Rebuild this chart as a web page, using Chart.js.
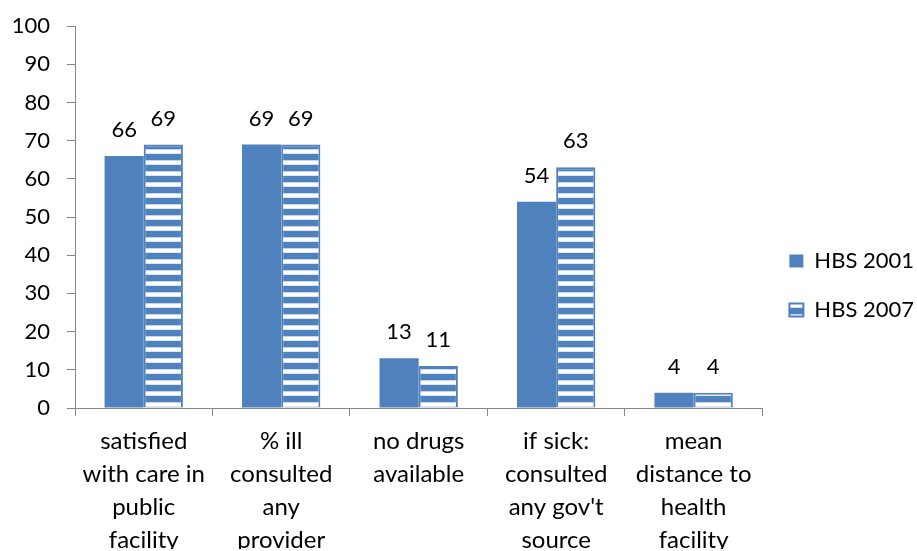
<!DOCTYPE html>
<html>
<head>
<meta charset="utf-8">
<title>HBS 2001 / 2007</title>
<script src="https://cdn.jsdelivr.net/npm/chart.js@4.4.0/dist/chart.umd.min.js"></script>
<style>
  html, body { margin: 0; padding: 0; background: #fff; }
  canvas { display: block; }
</style>
</head>
<body>
<canvas id="hbsChart" width="917" height="551"></canvas>
<script>
// survey indicators, one entry per category (multi-line labels)
var categories = [
  ['satisfied', 'with care in', 'public', 'facility'],
  ['% ill', 'consulted', 'any', 'provider'],
  ['no drugs', 'available'],
  ['if sick:', 'consulted', "any gov't", 'source'],
  ['mean', 'distance to', 'health', 'facility']
];
var seriesNames = ['HBS 2001', 'HBS 2007'];
var hbs2001 = [66, 69, 13, 54, 4];
var hbs2007 = [69, 69, 11, 63, 4];
var yMin = 0, yMax = 100, yStep = 10;

var blue = '#4F81BD';
var axisGrey = '#868686';

Chart.defaults.font.family = 'Lato, "Open Sans", sans-serif';
Chart.defaults.color = '#000';

// white horizontal stripes on blue for the 2007 bars
function stripePattern() {
  var c = document.createElement('canvas');
  c.width = 8; c.height = 11;
  var g = c.getContext('2d');
  g.fillStyle = blue; g.fillRect(0, 0, 8, 11);
  g.fillStyle = '#C6D6EA'; g.fillRect(0, 6, 8, 1);
  g.fillStyle = '#FFFFFF'; g.fillRect(0, 7, 8, 3);
  g.fillStyle = '#DCE6F2'; g.fillRect(0, 10, 8, 1);
  return g.createPattern(c, 'repeat');
}

// value above every bar
var valueLabels = {
  id: 'valueLabels',
  afterDatasetsDraw: function(chart) {
    var ctx = chart.ctx;
    ctx.save();
    ctx.font = '22px Lato, "Open Sans", sans-serif';
    ctx.fillStyle = '#000';
    ctx.textAlign = 'center';
    ctx.textBaseline = 'middle';
    chart.data.datasets.forEach(function(ds, i) {
      chart.getDatasetMeta(i).data.forEach(function(bar, j) {
        ctx.fillText(String(ds.data[j]), bar.x, bar.y - 26);
      });
    });
    ctx.restore();
  }
};

var ctx = document.getElementById('hbsChart').getContext('2d');
var hbsChart = new Chart(ctx, {
  type: 'bar',
  data: {
    labels: categories,
    datasets: [{
      label: seriesNames[0],
      data: hbs2001,
      backgroundColor: blue,
      borderColor: blue,
      borderWidth: 0,
      barPercentage: 1,
      categoryPercentage: 0.57
    }, {
      label: seriesNames[1],
      data: hbs2007,
      backgroundColor: stripePattern(),
      borderColor: blue,
      borderWidth: 2,
      barPercentage: 1,
      categoryPercentage: 0.57
    }]
  },
  options: {
    responsive: false,
    animation: false,
    layout: { padding: { top: 22, bottom: 2, left: 0, right: -7 } },
    plugins: {
      tooltip: { enabled: false },
      legend: {
        position: 'right',
        labels: {
          boxWidth: 14,
          boxHeight: 13,
          padding: 27,
          font: { size: 22 }
        }
      }
    },
    scales: {
      x: {
        grid: { drawOnChartArea: false, color: axisGrey, tickLength: 8 },
        border: { color: axisGrey },
        ticks: { padding: 9, maxRotation: 0, autoSkip: false, font: { size: 24, lineHeight: 1.375 } },
        afterFit: function(scale) { scale.height = 141; }
      },
      y: {
        min: yMin,
        max: yMax,
        grid: { drawOnChartArea: false, color: axisGrey, tickLength: 8 },
        border: { color: axisGrey },
        // small lineHeight keeps the top label overhang near 26px
        ticks: { stepSize: yStep, padding: 17, font: { size: 22, lineHeight: 0.82 } },
        afterFit: function(scale) { scale.width = 75; }
      }
    }
  },
  plugins: [valueLabels]
});
</script>
</body>
</html>
